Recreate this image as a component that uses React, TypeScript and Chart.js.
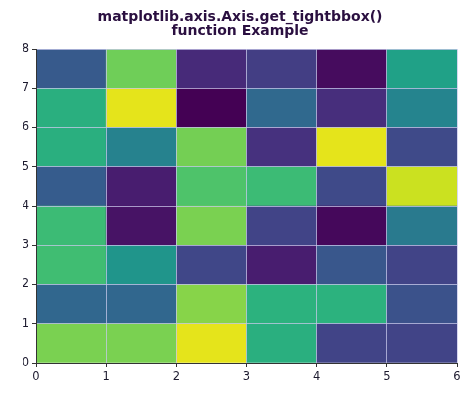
import React, { useEffect, useRef } from "react";
import { Chart, registerables } from "chart.js";

Chart.register(...registerables);

// Column edges / tick labels
const xTicks = [0, 1, 2, 3, 4, 5, 6];
const yTicks = [0, 1, 2, 3, 4, 5, 6, 7, 8];

// Cell values (0..1), one array per row, bottom row first
const row0 = [0.8, 0.8, 0.96, 0.63, 0.2, 0.2];
const row1 = [0.33, 0.33, 0.82, 0.64, 0.64, 0.25];
const row2 = [0.69, 0.52, 0.21, 0.08, 0.27, 0.2];
const row3 = [0.68, 0.05, 0.8, 0.2, 0.02, 0.41];
const row4 = [0.29, 0.08, 0.72, 0.68, 0.22, 0.92];
const row5 = [0.63, 0.44, 0.79, 0.14, 0.96, 0.22];
const row6 = [0.63, 0.96, 0.0, 0.34, 0.13, 0.45];
const row7 = [0.28, 0.78, 0.12, 0.18, 0.03, 0.57];
const rows = [row0, row1, row2, row3, row4, row5, row6, row7];

const titleLines = ["matplotlib.axis.Axis.get_tightbbox()", "function Example"];

// viridis colormap anchors
const VIRIDIS = [
  "#440154", "#471365", "#482475", "#463480", "#414487", "#3b528b", "#355f8d",
  "#2f6c8e", "#2a788e", "#25848e", "#21918c", "#1e9c89", "#22a884", "#2fb47c",
  "#44bf70", "#5ec962", "#7ad151", "#9bd93c", "#bddf26", "#dfe318", "#fde725",
];
function hex(h: string) {
  return [1, 3, 5].map((i) => parseInt(h.slice(i, i + 2), 16));
}
function viridis(v: number) {
  const t = Math.max(0, Math.min(1, v)) * (VIRIDIS.length - 1);
  const i = Math.min(VIRIDIS.length - 2, Math.floor(t));
  const f = t - i;
  const a = hex(VIRIDIS[i]);
  const b = hex(VIRIDIS[i + 1]);
  const c = a.map((x, k) => Math.round(x + (b[k] - x) * f));
  return `rgb(${c[0]},${c[1]},${c[2]})`;
}

export default function App() {
  const ref = useRef<HTMLCanvasElement | null>(null);
  useEffect(() => {
    if (!ref.current) return;
    const datasets = rows.map((row, r) => ({
      type: "bar" as const,
      data: row.map((_, c) => ({ x: xTicks[c] + 0.5, y: [yTicks[r], yTicks[r + 1]] })),
      backgroundColor: row.map((v) => viridis(v)),
      borderWidth: 0,
      barPercentage: 1,
      categoryPercentage: 1,
      grouped: false,
    }));
    const tickFont = { family: "DejaVu Sans", size: 11.5 };
    const gridOpts = { z: 1, color: "rgba(200,200,235,0.75)", lineWidth: 1, tickColor: "#333", tickLength: 4 };
    const chart = new Chart(ref.current, {
      type: "bar",
      data: { datasets: datasets as any },
      options: {
        animation: false,
        responsive: false,
        maintainAspectRatio: false,
        layout: { padding: { left: 23, right: 17, top: 0, bottom: 0 } },
        plugins: {
          legend: { display: false },
          tooltip: { enabled: false },
          title: {
            display: true,
            text: titleLines,
            color: "#2a0f40",
            font: { family: "DejaVu Sans", size: 14, weight: "bold", lineHeight: 1.0 },
            padding: { top: 10, bottom: 11 },
          },
        },
        scales: {
          x: {
            type: "linear",
            min: 0,
            max: 6,
            offset: false,
            afterFit: (s: any) => { s.height = 38; },
            ticks: { stepSize: 1, color: "#1c1a2e", font: tickFont, padding: 3, maxRotation: 0 },
            grid: { ...gridOpts, offset: false },
            border: { color: "#333", width: 1, z: 2 },
          },
          y: {
            type: "linear",
            min: 0,
            max: 8,
            afterFit: (s: any) => { s.width = 13; },
            ticks: { stepSize: 1, color: "#1c1a2e", font: tickFont, padding: 3 },
            grid: { ...gridOpts },
            border: { color: "#333", width: 1, z: 2 },
          },
        },
      } as any,
    });
    return () => chart.destroy();
  }, []);
  return (
    <div style={{ position: "fixed", left: 0, top: 0, width: 474, height: 401, background: "#fff" }}>
      <canvas ref={ref} width={474} height={401} style={{ width: 474, height: 401 }} />
    </div>
  );
}
